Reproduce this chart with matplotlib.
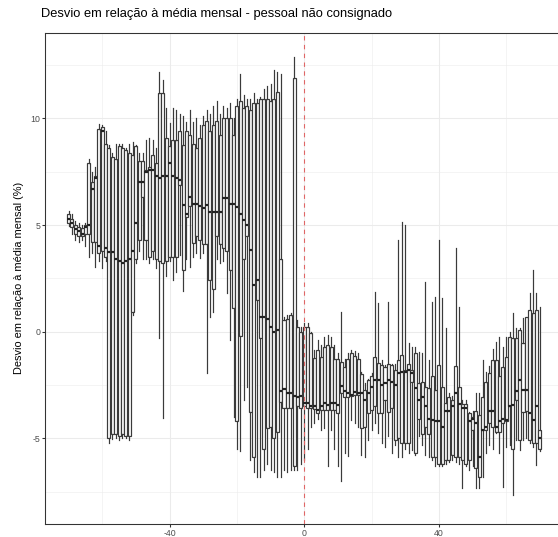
import matplotlib
matplotlib.use("Agg")
import matplotlib.pyplot as plt
import numpy as np

# Days relative to the reference date (x axis)
days = list(range(-70, 71))

# Per-day box statistics: lower whisker, Q1, median, Q3, upper whisker (%)
whisker_low = [
    4.95, 4.6, 4.3, 4.2, 4.3, 4.0, 3.5, 3.7, 3.05, 3.3,
    3.0, 3.3, -5.2, -5.05, -5.0, -5.1, -5.0, -5.0, -5.1, 0.8,
    3.2, 3.8, 3.4, 3.4, 3.2, 3.4, 3.0, -0.3, -4.06, 2.6,
    3.3, 2.4, 2.8, 3.6, 1.9, 3.4, 3.05, 3.5, 3.7, 3.45,
    3.7, -1.95, 0.7, 0.94, 3.4, 3.2, 3.3, 1.8, -0.4, -4.0,
    -5.5, -5.6, -3.2, -2.6, -6.0, -6.6, -6.8, -6.8, -6.5, -6.2,
    -6.5, -6.6, -6.8, -6.8, -6.5, -6.6, -6.5, -6.5, -6.5, -6.2,
    -6.0, -5.5, -4.45, -4.3, -4.1, -4.6, -4.5, -6.3, -4.6, -5.5,
    -6.3, -7.0, -5.7, -5.85, -4.14, -4.3, -4.45, -5.8, -5.86, -5.08,
    -4.6, -4.3, -4.76, -5.2, -5.4, -4.9, -5.7, -5.3, -5.9, -5.9,
    -5.5, -5.7, -5.55, -5.8, -4.9, -5.3, -5.8, -5.9, -6.0, -6.3,
    -6.3, -6.3, -6.2, -6.1, -6.0, -6.1, -6.2, -7.35, -6.3, -6.5,
    -6.3, -7.35, -7.35, -6.8, -5.7, -5.3, -5.5, -4.75, -5.7, -7.3,
    -5.4, -5.3, -7.66, -5.1, -5.55, -5.1, -5.0, -5.2, -5.4, -6.25,
    -5.6,
]

q1 = [
    5.1, 4.9, 4.6, 4.5, 4.5, 4.6, 4.6, 4.2, 4.2, 3.7,
    3.8, 3.5, -5.0, -4.8, -4.8, -4.9, -4.8, -4.9, -4.9, 0.9,
    3.4, 4.3, 6.3, 4.3, 3.5, 3.8, 3.4, 3.3, 3.2, 3.3,
    3.5, 3.5, 3.5, 6.9, 2.9, 5.4, 5.9, 4.15, 4.5, 4.3,
    4.1, 4.1, 2.4, 2.0, 4.5, 4.1, 3.9, 3.8, 2.9, 1.1,
    -4.2, -0.2, 3.4, 4.5, -3.75, -5.9, 1.5, -0.3, -5.5, -4.5,
    -4.45, -5.0, -4.7, -3.3, -3.6, -3.6, -3.6, -6.3, -3.5, -3.6,
    -3.5, -3.6, -3.6, -3.65, -3.8, -3.66, -3.66, -3.66, -3.66, -3.66,
    -3.8, -2.9, -3.05, -3.05, -3.0, -2.95, -2.97, -4.5, -4.45, -3.83,
    -3.67, -3.5, -3.83, -3.8, -3.2, -3.75, -3.6, -5.1, -5.0, -5.2,
    -5.2, -5.2, -2.35, -5.7, -4.1, -4.8, -4.45, -4.8, -5.9, -5.9,
    -6.2, -6.2, -6.0, -6.0, -5.8, -5.9, -5.9, -6.0, -6.2, -6.0,
    -4.6, -6.4, -6.8, -4.6, -4.6, -4.3, -4.45, -4.7, -4.7, -4.3,
    -4.2, -3.5, -5.5, -3.2, -5.1, -3.75, -3.7, -5.1, -5.2, -5.2,
    -5.5,
]

median = [
    5.3, 5.1, 4.8, 4.7, 4.6, 4.9, 5.0, 6.7, 7.2, 4.0,
    9.4, 3.9, 3.75, 3.75, 3.4, 3.3, 3.2, 3.3, 3.4, 3.8,
    5.1, 7.0, 7.0, 7.5, 7.6, 7.6, 7.3, 7.2, 7.3, 7.3,
    7.9, 7.3, 7.2, 7.1, 5.95, 5.5, 6.3, 6.0, 6.0, 5.9,
    5.8, 5.94, 5.6, 5.6, 5.6, 5.6, 6.26, 6.26, 6.0, 6.0,
    5.85, 5.5, 5.24, 5.0, 3.84, 2.2, 2.4, 0.7, 0.7, 0.6,
    0.24, 0.0, 0.1, -2.8, -2.7, -2.9, -2.9, -3.0, -3.05, -3.04,
    -3.35, -3.35, -3.5, -3.5, -3.66, -3.5, -3.35, -3.43, -3.35, -3.35,
    -3.43, -2.57, -2.8, -2.9, -2.97, -2.85, -2.9, -2.9, -3.2, -2.9,
    -2.58, -2.27, -2.27, -2.5, -2.4, -2.27, -2.35, -2.5, -1.96, -1.88,
    -1.88, -1.8, -1.96, -2.66, -3.2, -3.05, -3.5, -4.1, -4.15, -4.2,
    -4.2, -4.45, -3.7, -3.7, -3.5, -2.9, -3.4, -3.6, -3.6, -4.2,
    -4.1, -4.3, -5.9, -4.6, -4.45, -3.7, -3.7, -4.45, -4.2, -4.1,
    -4.15, -3.5, -3.43, -2.8, -2.27, -2.74, -2.74, -3.83, -4.15, -3.5,
    -5.0,
]

q3 = [
    5.5, 5.3, 5.0, 4.9, 4.85, 5.0, 7.9, 7.0, 7.3, 9.5,
    9.6, 8.8, 8.6, 8.2, 8.1, 8.7, 8.6, 8.5, 8.4, 8.3,
    8.7, 8.0, 8.0, 7.6, 7.7, 8.3, 7.9, 11.2, 11.2, 9.1,
    8.7, 9.0, 9.0, 9.4, 8.75, 9.4, 9.2, 8.8, 8.6, 9.1,
    9.7, 9.9, 9.4, 9.7, 9.9, 9.2, 10.0, 10.0, 10.0, 9.2,
    10.6, 10.8, 10.5, 10.6, 10.4, 10.7, 10.7, 10.9, 10.9, 10.9,
    10.8, 10.9, 11.25, 3.4, 0.55, 0.6, 0.8, 11.9, 0.24, 0.0,
    0.24, 0.24, -0.07, -1.25, -0.85, -1.2, -0.7, -0.62, -0.7, -1.3,
    -1.3, -1.4, -1.64, -1.3, -1.0, -1.15, -1.3, -2.0, -2.73, -2.27,
    -2.1, -1.17, -1.48, -1.56, -1.64, -1.5, -1.56, -1.8, -1.33, -1.1,
    -1.8, -1.5, -1.8, -1.0, -2.4, -2.35, -2.6, -2.66, -2.1, -2.74,
    -1.56, -2.6, -3.36, -3.05, -3.2, -1.6, -2.6, -3.4, -3.4, -3.8,
    -4.0, -3.7, -3.9, -3.05, -2.35, -1.96, -1.33, -1.33, -2.1, -1.64,
    -1.2, -0.24, -0.3, -0.3, 0.08, -0.55, 0.7, 1.0, 0.86, 1.0,
    -4.6,
]

whisker_high = [
    5.65, 5.5, 5.2, 5.1, 5.0, 5.1, 8.08, 7.5, 7.7, 9.75,
    9.7, 9.4, 8.75, 8.4, 8.8, 8.8, 8.8, 8.6, 8.8, 8.9,
    8.75, 8.4, 8.4, 9.0, 9.1, 9.0, 8.6, 12.2, 11.8, 10.5,
    9.8, 10.5, 10.4, 10.2, 10.1, 9.85, 10.4, 9.85, 10.0, 9.7,
    10.1, 10.4, 10.2, 10.6, 10.8, 10.2, 10.6, 10.5, 10.7, 10.0,
    10.9, 12.1, 11.1, 10.9, 10.9, 11.2, 10.9, 11.0, 11.4, 11.5,
    11.6, 12.27, 12.2, 12.1, 0.7, 0.8, 0.86, 12.9, 0.55, 0.24,
    0.4, 0.4, 0.0, -0.85, -0.4, -0.62, -0.23, -0.15, -0.23, -0.62,
    -1.0, 0.94, -1.3, -1.0, -0.85, -0.9, -1.0, -1.87, -2.42, -2.2,
    -1.95, 1.88, 1.33, -1.33, -1.56, 1.4, -1.5, -1.5, 4.3, 5.15,
    5.0, -0.55, -0.7, -0.7, -0.94, -1.0, 2.34, -1.33, 1.4, 1.64,
    4.3, 1.56, 0.15, -2.9, -3.0, 3.9, 1.17, -3.2, -3.2, -3.75,
    -3.7, -2.9, -2.9, -1.33, -1.9, -1.6, -0.8, -0.47, -0.24, -0.7,
    -0.24, 0.0, 0.86, 0.15, 0.15, 0.62, 0.7, 1.8, 2.9, 1.8,
    1.17,
]

title = "Desvio em relação à média mensal - pessoal não consignado"
ylabel = "Desvio em relação à média mensal (%)"
xticks = [-40, 0, 40]
yticks = [-5, 0, 5, 10]

plt.rcParams["font.family"] = ["Liberation Sans", "DejaVu Sans"]

W, H, DPI = 558, 537, 72
fig = plt.figure(figsize=(W / DPI, H / DPI), dpi=DPI)

# panel in pixel coordinates (right edge runs past the figure)
px_left, px_right, px_top, px_bottom = 45, 563.4, 32.7, 524
ax = fig.add_axes([px_left / W, (H - px_bottom) / H,
                   (px_right - px_left) / W, (px_bottom - px_top) / H])

stats = []
for lo, a, m, b, hi in zip(whisker_low, q1, median, q3, whisker_high):
    stats.append(dict(whislo=lo, q1=a, med=m, q3=b, whishi=hi, fliers=[]))

edge = "#3a3a3a"
ax.bxp(stats, positions=days, widths=0.9, showfliers=False, showcaps=False,
       patch_artist=True,
       boxprops=dict(facecolor="white", edgecolor=edge, linewidth=1.2),
       whiskerprops=dict(color=edge, linewidth=1.2),
       medianprops=dict(color="#222222", linewidth=2.2, solid_capstyle="butt"),
       manage_ticks=False)

ax.axvline(0, color="#e06666", linestyle=(0, (4, 4)), linewidth=1.1, zorder=5)

ax.set_xlim(-77, 77)
ax.set_ylim(-9.02, 14.02)
ax.set_xticks(xticks)
ax.set_xticks([-60, -20, 20, 60], minor=True)
ax.set_yticks(yticks)
ax.set_yticks([-7.5, -2.5, 2.5, 7.5, 12.5], minor=True)
ax.set_xticklabels([str(v) for v in xticks])
ax.set_yticklabels([str(v) for v in yticks])

ax.set_axisbelow(True)
ax.grid(which="major", color="#ebebeb", linewidth=1.07)
ax.grid(which="minor", color="#ebebeb", linewidth=0.53)

for s in ax.spines.values():
    s.set_color("#333333")
    s.set_linewidth(1.07)

ax.tick_params(which="major", length=2.75, width=1.07, color="#333333",
               labelcolor="#4d4d4d", labelsize=8.8, pad=2.2)
ax.tick_params(which="minor", length=0)

ax.set_ylabel(ylabel, fontsize=11, color="black", labelpad=6)
fig.text(41 / W, 1 - 14 / H, title, fontsize=12.9, ha="left", va="center")

fig.savefig("out.png", dpi=DPI)
